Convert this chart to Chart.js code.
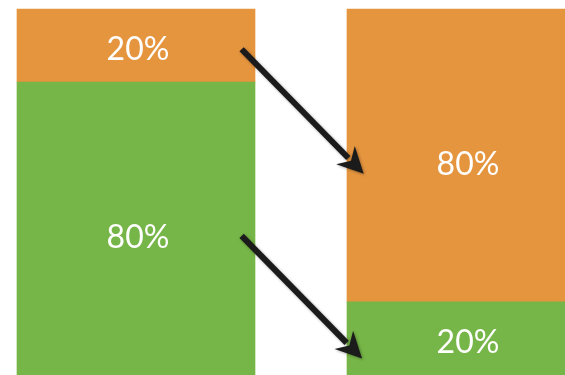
<!DOCTYPE html>
<html>
<head>
<meta charset="utf-8">
<script src="https://cdn.jsdelivr.net/npm/chart.js@4/dist/chart.umd.min.js"></script>
<style>
  html, body { margin: 0; padding: 0; background: #fff; overflow: hidden; }
  canvas { display: block; }
</style>
</head>
<body>
<canvas id="chart" width="565" height="375"></canvas>
<script>
// data
const labels = ['Before', 'After'];
const orange_values = [20, 80];
const green_values = [80, 20];
// arrows: [fromIndex, fromValue, toIndex, toValue]
const arrows = [
    [0.32, 89, 0.69, 55],
    [0.32, 38, 0.685, 4.5]
];

const ORANGE = 'rgb(229, 149, 62)';
const GREEN = 'rgb(118, 181, 71)';

// percent labels in the middle of each segment
const valueLabels = {
    id: 'valueLabels',
    afterDatasetsDraw(chart) {
        const ctx = chart.ctx;
        ctx.save();
        ctx.fillStyle = '#ffffff';
        ctx.font = '32px Lato, "Open Sans", sans-serif';
        ctx.textAlign = 'center';
        ctx.textBaseline = 'middle';
        chart.data.datasets.forEach((ds, di) => {
            const meta = chart.getDatasetMeta(di);
            meta.data.forEach((bar, i) => {
                const mid = (bar.y + bar.base) / 2;
                const h = Math.abs(bar.base - bar.y);
                // big segments sit a little lower than the middle
                const shift = h > 200 ? 9 : 4;
                ctx.fillText(ds.data[i] + '%', bar.x + 2, mid + shift);
            });
        });
        ctx.restore();
    }
};

// black arrows between the bars
const arrowPlugin = {
    id: 'arrowPlugin',
    afterDraw(chart) {
        const ctx = chart.ctx;
        const xs = chart.scales.x;
        const ys = chart.scales.y;
        ctx.save();
        ctx.strokeStyle = '#1b1b1b';
        ctx.fillStyle = '#1b1b1b';
        ctx.lineWidth = 6;
        ctx.lineCap = 'butt';
        ctx.shadowColor = 'rgba(0,0,0,0.35)';
        ctx.shadowBlur = 3;
        ctx.shadowOffsetX = 1;
        ctx.shadowOffsetY = 1;
        arrows.forEach(a => {
            const x0 = xs.getPixelForValue(a[0]);
            const y0 = ys.getPixelForValue(a[1]);
            const x1 = xs.getPixelForValue(a[2]);
            const y1 = ys.getPixelForValue(a[3]);
            const ang = Math.atan2(y1 - y0, x1 - x0);
            const headLen = 26;
            const headW = 13;
            const bx = x1 - Math.cos(ang) * (headLen - 4);
            const by = y1 - Math.sin(ang) * (headLen - 4);
            ctx.beginPath();
            ctx.moveTo(x0, y0);
            ctx.lineTo(bx, by);
            ctx.stroke();
            const hx = x1 - Math.cos(ang) * headLen;
            const hy = y1 - Math.sin(ang) * headLen;
            const px = -Math.sin(ang) * headW;
            const py = Math.cos(ang) * headW;
            ctx.beginPath();
            ctx.moveTo(x1, y1);
            ctx.lineTo(hx + px, hy + py);
            ctx.lineTo(x1 - Math.cos(ang) * headLen * 0.7, y1 - Math.sin(ang) * headLen * 0.7);
            ctx.lineTo(hx - px, hy - py);
            ctx.closePath();
            ctx.fill();
        });
        ctx.restore();
    }
};

const data = {
    labels: labels,
    datasets: [
        {
            label: 'green',
            data: green_values,
            backgroundColor: GREEN,
            barThickness: 238,
            clip: false
        },
        {
            label: 'orange',
            data: orange_values,
            backgroundColor: ORANGE,
            barThickness: 238,
            clip: false
        }
    ]
};

const options = {
    responsive: false,
    animation: false,
    layout: {
        padding: { left: 136, right: 99, top: 9, bottom: 0 }
    },
    plugins: {
        legend: { display: false },
        tooltip: { enabled: false }
    },
    scales: {
        x: {
            type: 'category',
            stacked: true,
            offset: false,
            display: false
        },
        y: {
            stacked: true,
            min: 0,
            max: 100,
            display: false
        }
    }
};

const ctx = document.getElementById('chart').getContext('2d');
const myChart = new Chart(ctx, {
    type: 'bar',
    data: data,
    options: options,
    plugins: [valueLabels, arrowPlugin]
});
</script>
</body>
</html>
